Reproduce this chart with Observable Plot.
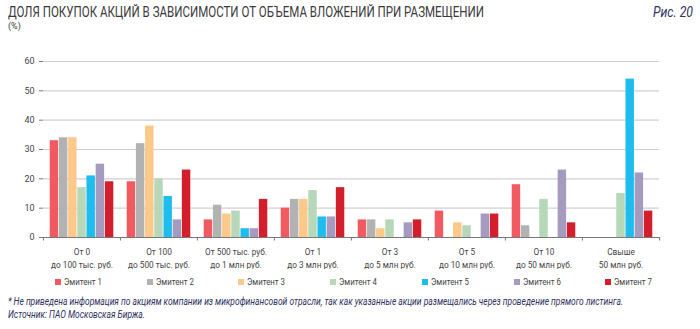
<!DOCTYPE html>
<html><head><meta charset="utf-8">
<script src="https://cdn.jsdelivr.net/npm/d3@7"></script>
<script src="https://cdn.jsdelivr.net/npm/@observablehq/plot@0.6"></script>
<style>
body{margin:0;background:#fff;}
#wrap{position:relative;width:700px;height:329px;overflow:hidden;font-family:Roboto,"Noto Sans",sans-serif;}
.fit{position:absolute;white-space:nowrap;transform-origin:0 50%;}
#title{left:8px;top:4px;font-size:14px;line-height:16px;color:#3a3a3a;}
#unit{left:8px;top:21px;font-size:9px;line-height:10px;color:#3a3a3a;}
#fig{top:4px;font-size:14px;line-height:16px;font-style:italic;color:#2e3160;}
#chart{position:absolute;left:0;top:45px;}
.leg{position:absolute;top:276px;font-size:9.5px;line-height:12px;color:#444;white-space:nowrap;display:flex;align-items:center;}
.sw{width:6px;height:6px;margin-right:3px;display:inline-block;flex:none;}
.note{left:8px;font-size:10px;line-height:12px;font-style:italic;color:#2e3160;}
</style></head>
<body>
<div id="wrap">
  <div id="title" class="fit" data-w="476">ДОЛЯ ПОКУПОК АКЦИЙ В ЗАВИСИМОСТИ ОТ ОБЪЕМА ВЛОЖЕНИЙ ПРИ РАЗМЕЩЕНИИ</div>
  <div id="unit" class="fit">(%)</div>
  <div id="fig" class="fit" data-w="40" data-right="693">Рис. 20</div>
  <div id="chart"></div>
  <div id="legend"></div>
  <div class="note fit" data-w="615" style="top:296px">* Не приведена информация по акциям компании из микрофинансовой отрасли, так как указанные акции размещались через проведение прямого листинга.</div>
  <div class="note fit" data-scale-like="0" style="top:309px">Источник: ПАО Московская Биржа.</div>
</div>
<script>
const categories = [
  "От 0\nдо 100 тыс. руб.",
  "От 100\nдо 500 тыс. руб.",
  "От 500 тыс. руб.\nдо 1 млн руб.",
  "От 1\nдо 3 млн руб.",
  "От 3\nдо 5 млн руб.",
  "От 5\nдо 10 млн руб.",
  "От 10\nдо 50 млн руб.",
  "Свыше\n50 млн руб."
];
const emitters = ["Эмитент 1","Эмитент 2","Эмитент 3","Эмитент 4","Эмитент 5","Эмитент 6","Эмитент 7"];
const colors = ["#f15a60","#b2b2b2","#fdc98b","#b7d7b9","#1fbcee","#a59bc0","#d21f2b"];
const emitter1 = [33, 19, 6, 10, 6, 9, 18, 0];
const emitter2 = [34, 32, 11, 13, 6, 0, 4, 0];
const emitter3 = [34, 38, 8, 13, 3, 5, 0, 0];
const emitter4 = [17, 20, 9, 16, 6, 4, 13, 15];
const emitter5 = [21, 14, 3, 7, 0, 0, 0, 54];
const emitter6 = [25, 6, 3, 7, 5, 8, 23, 22];
const emitter7 = [19, 23, 13, 17, 6, 8, 5, 9];
const yTicks = [0, 10, 20, 30, 40, 50, 60];

const series = [emitter1, emitter2, emitter3, emitter4, emitter5, emitter6, emitter7];
const data = [];
series.forEach((vals, si) => vals.forEach((v, ci) => {
  if (v > 0) data.push({category: categories[ci], emitter: emitters[si], value: v});
}));

const FONT = 'Roboto,"Noto Sans",sans-serif';
const W = 700, H = 224, mL = 40, mR = 38, mT = 16, mB = 32;
const pIn = 0.08, pOut = 0.73;
const facetW = (W - mL - mR) / categories.length;
const step = facetW / (emitters.length - pIn + 2 * pOut);
const edge = pOut * step + (1 - pIn) * step / 2;

const leftTicks = categories.map(c => ({category: c}));
const rightTick = [{category: categories[categories.length - 1]}];

const plot = Plot.plot({
  width: W, height: H,
  marginLeft: mL, marginRight: mR, marginTop: mT, marginBottom: mB,
  style: {fontFamily: FONT, fontSize: "9.5px", color: "#444", background: "transparent"},
  fx: {domain: categories, padding: 0, axis: null},
  x: {domain: emitters, paddingInner: pIn, paddingOuter: pOut, axis: null, round: false},
  y: {domain: [0, 60], axis: null},
  color: {domain: emitters, range: colors},
  marks: [
    Plot.ruleY(yTicks.filter(v => v > 0), {stroke: "#d0d0d0", strokeWidth: 1.2}),
    Plot.barY(data, {fx: "category", x: "emitter", y: "value", fill: "emitter"}),
    Plot.ruleY([0], {stroke: "#777", strokeWidth: 1}),
    Plot.ruleX(leftTicks, {fx: "category", x: () => emitters[0], y1: 0, y2: -1.2, dx: -edge, stroke: "#777"}),
    Plot.ruleX(rightTick, {fx: "category", x: () => emitters[emitters.length - 1], y1: 0, y2: -1.2, dx: edge, stroke: "#777"}),
    Plot.axisY({ticks: yTicks, tickSize: 4, tickPadding: 5, line: true, stroke: "#777", color: "#444", label: null, fontSize: 9}),
    Plot.axisFx({anchor: "bottom", tickSize: 0, tickPadding: 9, label: null, lineHeight: 1.3, fontSize: 9.5, color: "#444"})
  ]
});
document.getElementById("chart").appendChild(plot);

// condense x tick labels horizontally to match the narrow typeface of the reference
const cv = document.createElement("canvas").getContext("2d");
cv.font = "9.5px Roboto";
const xs = 62 / cv.measureText("до 100 тыс. руб.").width;
d3.select(plot).selectAll('g[aria-label="fx-axis tick label"] text').each(function() {
  const t = this.getAttribute("transform") || "";
  this.setAttribute("transform", t + ` scale(${xs},1)`);
});

const leg = document.getElementById("legend");
emitters.forEach((e, i) => {
  const d = document.createElement("div");
  d.className = "leg";
  d.style.left = (55 + i * 91.7) + "px";
  d.innerHTML = `<span class="sw" style="background:${colors[i]}"></span><span class="lt" style="display:inline-block;transform-origin:0 50%">${e}</span>`;
  leg.appendChild(d);
});
document.querySelectorAll(".lt").forEach(el => {
  const s = 38 / el.getBoundingClientRect().width;
  el.style.transform = `scaleX(${s})`;
});

let noteScale = 1;
document.querySelectorAll(".fit").forEach(el => {
  const tw = +el.dataset.w;
  if (!tw) return;
  const s = tw / el.getBoundingClientRect().width;
  el.style.transform = `scaleX(${s})`;
  if (el.classList.contains("note")) noteScale = s;
  if (el.dataset.right) el.style.left = (+el.dataset.right - tw) + "px";
});
document.querySelectorAll(".note").forEach(el => { if (!el.dataset.w) el.style.transform = `scaleX(${noteScale})`; });
const titleEl = document.getElementById("title");
</script>
</body></html>
